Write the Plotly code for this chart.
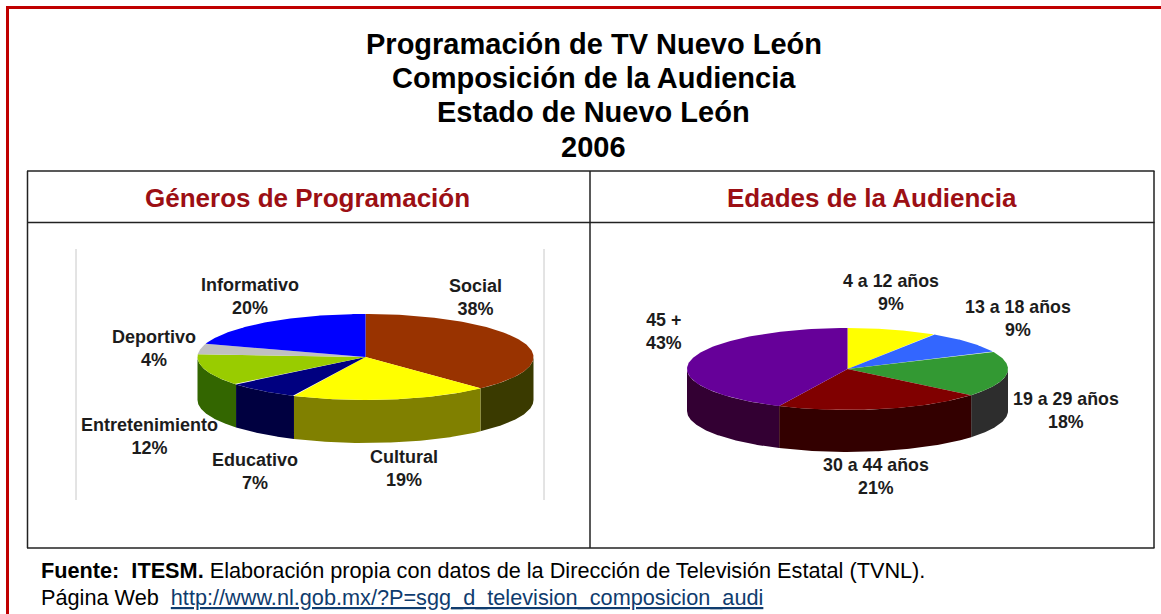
import numpy as np
import plotly.graph_objects as go

TITLE_LINES = ["Programación de TV Nuevo León", "Composición de la Audiencia", "Estado de Nuevo León", "2006"]
HEAD_LEFT = "Géneros de Programación"
HEAD_RIGHT = "Edades de la Audiencia"

genres = ["Social", "Cultural", "Educativo", "Entretenimiento", "Deportivo", "Informativo"]
genre_values = [38, 19, 7, 12, 4, 20]
genre_top = ["#993300", "#ffff00", "#000080", "#99cc00", "#c0c0c0", "#0000ff"]
genre_side = ["#3a3a00", "#808000", "#000040", "#336600", "#606060", "#000080"]

ages = ["4 a 12 años", "13 a 18 años", "19 a 29 años", "30 a 44 años", "45 +"]
age_values = [9, 9, 18, 21, 43]
age_top = ["#ffff00", "#3366ff", "#339933", "#800000", "#660099"]
age_side = ["#808000", "#1a3380", "#2d2d2d", "#330000", "#330033"]

RED = "#c00000"
fig = go.Figure()


def pie3d(values, top, side, names, cx, cy, rx, ry, depth):
    total = sum(values)
    edges = np.cumsum([0] + list(values)) / total * 2 * np.pi
    # side walls first, only the near half of the rim is visible
    for i, v in enumerate(values):
        a0, a1 = max(edges[i], np.pi / 2), min(edges[i + 1], 3 * np.pi / 2)
        if a1 > a0:
            t = np.linspace(a0, a1, 80)
            x = cx + rx * np.sin(t)
            y = cy - ry * np.cos(t)
            fig.add_trace(go.Scatter(
                x=np.r_[x, x[::-1]], y=np.r_[y, y[::-1] + depth], mode="lines", fill="toself",
                fillcolor=side[i], line=dict(width=0), hoverinfo="skip", showlegend=False))
    for i, v in enumerate(values):
        t = np.linspace(edges[i], edges[i + 1], 120)
        fig.add_trace(go.Scatter(
            x=np.r_[cx, cx + rx * np.sin(t), cx], y=np.r_[cy, cy - ry * np.cos(t), cy],
            mode="lines", fill="toself", fillcolor=top[i], line=dict(width=0),
            name=f"{names[i]} {v}%", hoverinfo="name", showlegend=False))


pie3d(genre_values, genre_top, genre_side, genres, 365.5, 357, 168, 43, 43)
pie3d(age_values, age_top, age_side, ages, 847.5, 369, 160.5, 41, 42)


def line(x0, y0, x1, y1, color="#222222", width=1.5):
    fig.add_shape(type="line", x0=x0, y0=y0, x1=x1, y1=y1, line=dict(color=color, width=width), layer="below")


# slide frame
line(6, 7.5, 1161, 7.5, RED, 3)
line(7.5, 6, 7.5, 614, RED, 3)
# table
line(27, 171, 1154.5, 171)
line(27, 222.5, 1154.5, 222.5)
line(27, 548, 1154.5, 548)
line(27.5, 171, 27.5, 548)
line(590, 171, 590, 548)
line(1154, 171, 1154, 548)
# picture edges
line(76, 249, 76, 500, "#c8c8c8", 1)
line(544, 249, 544, 500, "#c8c8c8", 1)


def text(x, y, s, size, color="#000000", family="Liberation Sans", anchor="center"):
    fig.add_annotation(x=x, y=y, text=s, showarrow=False, xanchor=anchor, yanchor="middle",
                       align="center", font=dict(family=family, size=size, color=color))


for s, y in zip(TITLE_LINES, [44, 78, 112, 147]):
    text(593.5, y, f"<b>{s}</b>", 29)
text(307.5, 198, f"<b>{HEAD_LEFT}</b>", 26, "#9c0f14")
text(871.5, 198, f"<b>{HEAD_RIGHT}</b>", 26, "#9c0f14")

positions_left = {"Social": (475, 297), "Cultural": (404, 468), "Educativo": (255, 471),
                  "Entretenimiento": (149, 436), "Deportivo": (154, 348), "Informativo": (250, 296)}
for n, v in zip(genres, genre_values):
    x, y = positions_left[n]
    text(x, y, f"<b>{n}<br>{v}%</b>", 18, "#1c1c1c")
positions_right = {"4 a 12 años": (891, 292), "13 a 18 años": (1018, 318), "19 a 29 años": (1066, 410),
                   "30 a 44 años": (876, 476), "45 +": (664, 331)}
for n, v in zip(ages, age_values):
    x, y = positions_right[n]
    text(x, y, f"<b>{n}<br>{v}%</b>", 17.8, "#1c1c1c")

text(39, 570, "<b>Fuente:  ITESM.</b> Elaboración propia con datos de la Dirección de Televisión Estatal (TVNL).",
     21.7, anchor="left")
text(39, 597, 'Página Web  <span style="color:#0f3c6e"><u>http://www.nl.gob.mx/?P=sgg_d_television_composicion_audi</u></span>',
     21.7, anchor="left")

fig.update_layout(
    width=1161, height=614, margin=dict(l=0, r=0, t=0, b=0),
    paper_bgcolor="#ffffff", plot_bgcolor="#ffffff", showlegend=False,
    xaxis=dict(range=[0, 1161], visible=False, fixedrange=True),
    yaxis=dict(range=[614, 0], visible=False, fixedrange=True),
)
fig.write_html("out.html", config=dict(displayModeBar=False),
               post_script="document.body.style.margin='0';document.documentElement.style.overflow='hidden';")
